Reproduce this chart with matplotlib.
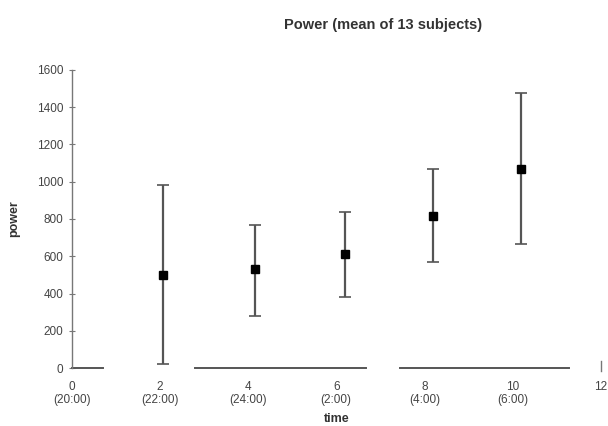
import numpy as np
import matplotlib.pyplot as plt

plt.rcParams['font.family'] = ['Liberation Sans', 'DejaVu Sans']

# slightly offset to the right of the ticks, as in the original
hours = [2.08, 4.16, 6.2, 8.2, 10.2]
power_mean = [499, 532, 612, 817, 1068]
power_low = [20, 281, 381, 567, 664]
power_high = [982, 769, 840, 1067, 1478]
xtick_pos = [0, 2, 4, 6, 8, 10, 12]
xtick_lab = ['0\n(20:00)', '2\n(22:00)', '4\n(24:00)', '6\n(2:00)',
             '8\n(4:00)', '10\n(6:00)', '12']
ytick_pos = [0, 200, 400, 600, 800, 1000, 1200, 1400, 1600]

mean = np.array(power_mean)
err = [mean - np.array(power_low), np.array(power_high) - mean]

fig = plt.figure(figsize=(6.08, 4.26), dpi=100)
ax = fig.add_axes([0.118, 0.136, 0.870, 0.700])

ax.errorbar(hours, mean, yerr=err, fmt='s', color='black', ms=6,
            ecolor='#555555', elinewidth=1.6, capsize=4, capthick=1.2)

ax.set_xlim(0, 12)
ax.set_ylim(0, 1600)
for s in ['top', 'right', 'bottom']:
    ax.spines[s].set_visible(False)
ax.spines['left'].set_color('#777777')
ax.spines['left'].set_linewidth(1.0)

# broken (faded) zero line along the bottom
for a, b in [(0, 0.7), (2.8, 6.67), (7.45, 11.29)]:
    ax.plot([a, b], [0, 0], color='#555555', lw=1.4, clip_on=False)
ax.plot([12, 12], [-15, 40], color='#777777', lw=1, clip_on=False)

ax.set_xticks(xtick_pos)
ax.set_xticklabels(xtick_lab, fontsize=8.5, color='#444444', linespacing=1.15)
ax.tick_params(axis='x', length=0, pad=9)
ax.set_yticks(ytick_pos)
ax.set_yticklabels([str(v) for v in ytick_pos], fontsize=8.5, color='#444444')
ax.tick_params(axis='y', direction='inout', length=5, color='#777777')

ax.set_xlabel('time', fontsize=9, fontweight='bold', color='#333333', labelpad=5)
ax.set_ylabel('power', fontsize=9, fontweight='bold', color='#333333', labelpad=12)
fig.text(0.63, 0.941, 'Power (mean of 13 subjects)', fontsize=10.5,
         fontweight='bold', color='#333333', ha='center', va='center')

fig.savefig('out.png', dpi=100)
